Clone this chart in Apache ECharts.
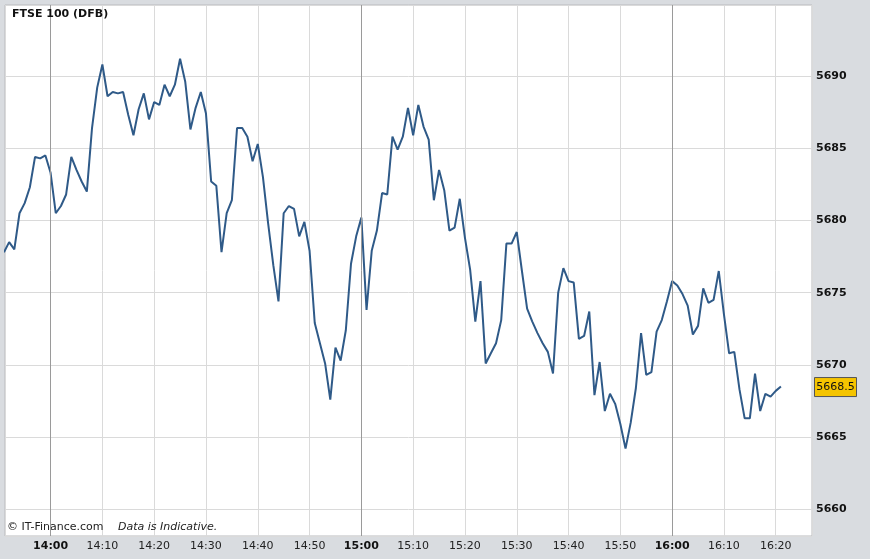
<!DOCTYPE html>
<html>
<head>
<meta charset="utf-8">
<script src="https://cdn.jsdelivr.net/npm/echarts@6/dist/echarts.min.js"></script>
<style>
  html, body { margin: 0; padding: 0; background: #d9dce0; }
  #ftse { width: 870px; height: 559px; }
</style>
</head>
<body>
<div id="ftse"></div>
<script>
// FTSE 100 (DFB) intraday, one price per minute from 13:51
var firstMinute = 13 * 60 + 51;
var prices = [
  5677.8, 5678.5, 5678.0, 5680.5, 5681.2, 5682.3, 5684.4, 5684.3, 5684.5,
  5683.3, 5680.5, 5681.0, 5681.8, 5684.4, 5683.5, 5682.7, 5682.0, 5686.4, 5689.2,
  5690.8, 5688.6, 5688.9, 5688.8, 5688.9, 5687.3, 5685.9, 5687.7, 5688.8, 5687.0,
  5688.2, 5688.0, 5689.4, 5688.6, 5689.4, 5691.2, 5689.6, 5686.3, 5687.8, 5688.9,
  5687.4, 5682.7, 5682.4, 5677.8, 5680.5, 5681.4, 5686.4, 5686.4, 5685.8, 5684.1,
  5685.3, 5683.0, 5679.8, 5676.9, 5674.4, 5680.5, 5681.0, 5680.8, 5678.9, 5679.9,
  5677.9, 5672.9, 5671.5, 5670.1, 5667.6, 5671.2, 5670.3, 5672.4, 5677.0, 5678.9,
  5680.2, 5673.8, 5677.9, 5679.3, 5681.9, 5681.8, 5685.8, 5684.9, 5685.8, 5687.8,
  5685.9, 5688.0, 5686.5, 5685.6, 5681.4, 5683.5, 5682.1, 5679.3, 5679.5, 5681.5,
  5678.8, 5676.6, 5673.0, 5675.8, 5670.1, 5670.8, 5671.5, 5673.1, 5678.4, 5678.4,
  5679.2, 5676.5, 5673.9, 5673.0, 5672.2, 5671.5, 5670.9, 5669.4, 5675.0, 5676.7,
  5675.8, 5675.7, 5671.8, 5672.0, 5673.7, 5667.9, 5670.2, 5666.8, 5668.0, 5667.3,
  5665.9, 5664.2, 5666.0, 5668.4, 5672.2, 5669.3, 5669.5, 5672.3, 5673.1, 5674.4,
  5675.8, 5675.5, 5674.9, 5674.1, 5672.1, 5672.7, 5675.3, 5674.3, 5674.5, 5676.5,
  5673.5, 5670.8, 5670.9, 5668.3, 5666.3, 5666.3, 5669.4, 5666.8, 5668.0, 5667.8,
  5668.2, 5668.5
];
var hourLines = [14 * 60, 15 * 60, 16 * 60];
var lastPrice = 5668.5;

var points = prices.map(function (p, i) { return [firstMinute + i, p]; });

function hhmm(v) {
  var h = Math.floor(v / 60), m = Math.round(v % 60);
  return h + ':' + (m < 10 ? '0' : '') + m;
}

var chart = echarts.init(document.getElementById('ftse'));
chart.setOption({
  animation: false,
  backgroundColor: '#d9dce0',
  title: {
    text: 'FTSE 100 (DFB)',
    left: 12, top: 9, padding: 0,
    textStyle: { fontFamily: 'DejaVu Sans', fontSize: 11, fontWeight: 'bold', color: '#111' }
  },
  grid: {
    left: 5, top: 5, right: 58, bottom: 23,
    show: true, backgroundColor: '#ffffff', borderColor: '#b8bbbf', borderWidth: 1
  },
  xAxis: {
    type: 'value',
    min: 831.2, max: 987,
    minInterval: 10, maxInterval: 10,
    axisLine: { show: false },
    axisTick: { show: false },
    splitLine: { show: true, lineStyle: { color: '#dadada', width: 1 } },
    axisLabel: {
      showMinLabel: false, showMaxLabel: false,
      margin: 5,
      fontFamily: 'DejaVu Sans', fontSize: 11, color: '#222',
      formatter: function (v) {
        var s = hhmm(v);
        return v % 60 === 0 ? '{b|' + s + '}' : s;
      },
      rich: { b: { fontFamily: 'DejaVu Sans', fontSize: 11, fontWeight: 'bold', color: '#111' } }
    }
  },
  yAxis: {
    type: 'value',
    position: 'right',
    min: 5658.15, max: 5694.92,
    minInterval: 5, maxInterval: 5,
    axisLine: { show: false },
    axisTick: { show: false },
    splitLine: { show: true, lineStyle: { color: '#dadada', width: 1 } },
    axisLabel: {
      showMinLabel: false, showMaxLabel: false,
      margin: 4, align: 'left',
      fontFamily: 'DejaVu Sans', fontSize: 11, fontWeight: 'bold', color: '#111',
      formatter: function (v) { return String(v); }
    }
  },
  series: [
    {
      type: 'line',
      data: points,
      z: 1,
      silent: true,
      showSymbol: false,
      lineStyle: { opacity: 0 },
      markLine: {
        silent: true,
        symbol: 'none',
        label: { show: false },
        lineStyle: { color: '#9a9a9a', width: 1, type: 'solid' },
        data: hourLines.map(function (v) { return { xAxis: v }; })
      }
    },
    {
      type: 'line',
      data: points,
      z: 3,
      showSymbol: false,
      lineStyle: { color: '#2f5a88', width: 2 }
    }
  ]
});

// price tag and footer
var tagY = chart.convertToPixel({ yAxisIndex: 0 }, lastPrice);
chart.setOption({
  graphic: [
    {
      type: 'group', left: 814, top: tagY - 9.5,
      children: [
        { type: 'rect', shape: { x: 0, y: 0, width: 42, height: 19 },
          style: { fill: '#f5c400', stroke: '#555', lineWidth: 1 } },
        { type: 'text', x: 21, y: 10,
          style: { text: lastPrice.toFixed(1), fontFamily: 'DejaVu Sans', fontSize: 11,
                   fill: '#111', align: 'center', verticalAlign: 'middle' } }
      ]
    },
    { type: 'text', left: 7, top: 522,
      style: { text: '\u00a9 IT-Finance.com', fontFamily: 'DejaVu Sans', fontSize: 11, fill: '#222' } },
    { type: 'text', left: 118, top: 522,
      style: { text: 'Data is Indicative.', fontFamily: 'DejaVu Sans', fontSize: 11,
               fontStyle: 'italic', fill: '#222' } }
  ]
});
</script>
</body>
</html>
